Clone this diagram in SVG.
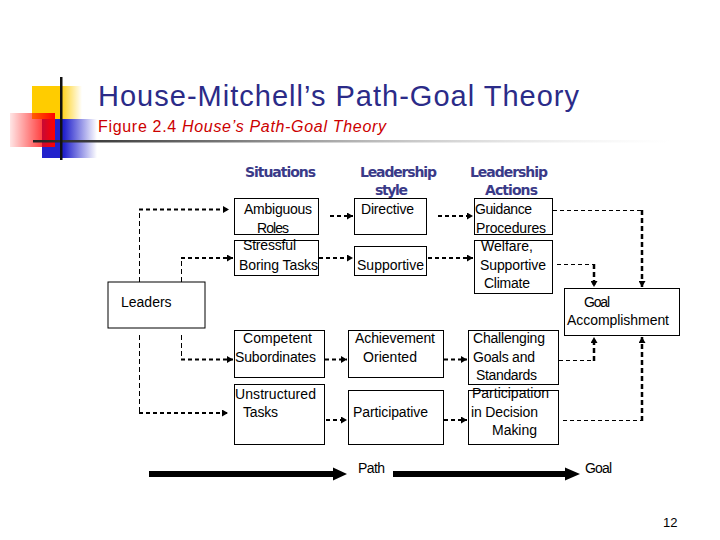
<svg xmlns="http://www.w3.org/2000/svg" width="720" height="540" viewBox="0 0 720 540">
<defs>
<linearGradient id="gy" x1="0" y1="0" x2="1" y2="0"><stop offset="0" stop-color="#FFCC00"/><stop offset="0.55" stop-color="#FFCC00"/><stop offset="1" stop-color="#FFCC00" stop-opacity="0"/></linearGradient>
<linearGradient id="gr" x1="0" y1="0" x2="1" y2="0"><stop offset="0" stop-color="#FF0000" stop-opacity="0.1"/><stop offset="1" stop-color="#FF0000"/></linearGradient>
<linearGradient id="gb" x1="0" y1="0" x2="1" y2="0"><stop offset="0" stop-color="#2222CC"/><stop offset="0.4" stop-color="#2222CC"/><stop offset="1" stop-color="#2222CC" stop-opacity="0"/></linearGradient>
<linearGradient id="gl" x1="0" y1="0" x2="1" y2="0"><stop offset="0" stop-color="#222222"/><stop offset="0.3" stop-color="#777777"/><stop offset="1" stop-color="#DDDDDD" stop-opacity="0"/></linearGradient>
<marker id="ah" markerUnits="userSpaceOnUse" markerWidth="7" markerHeight="7" refX="6" refY="3.5" orient="auto"><path d="M0,0 L6,3.5 L0,7 z" fill="#000"/></marker>
</defs>
<style>
.box{fill:#fff;stroke:#000;stroke-width:1}
.t{font-family:"Liberation Sans",Arial,sans-serif;font-size:14px;fill:#000}
.h{font-family:"DejaVu Sans","Liberation Sans",sans-serif;font-size:14px;fill:#3A3A88;font-weight:bold}
.d{fill:none;stroke:#000;stroke-width:2;stroke-dasharray:4 3}
.dt{fill:none;stroke:#000;stroke-width:1;stroke-dasharray:4 3}
.dv{fill:none;stroke:#000;stroke-width:1;stroke-dasharray:5 3}
.dk{fill:none;stroke:#000;stroke-width:2.5;stroke-dasharray:5 3}
</style>
<rect width="720" height="540" fill="#fff"/>
<g id="decoration">
<rect x="32" y="86" width="50" height="33" fill="url(#gy)"/>
<rect x="42" y="119" width="55" height="39" fill="url(#gb)"/>
<rect x="10" y="113" width="45" height="34" fill="url(#gr)"/>
<rect x="33" y="140" width="640" height="2.5" fill="url(#gl)"/>
<rect x="60" y="77" width="2.5" height="83" fill="#111"/>
</g>
<g id="title">
<text x="98" y="106" font-family="Liberation Sans,Arial,sans-serif" font-size="29" fill="#2B2B88" textLength="481">House-Mitchell’s Path-Goal Theory</text>
<text x="98" y="131.5" font-family="Liberation Sans,Arial,sans-serif" font-size="16" fill="#CC0000" textLength="288"><tspan>Figure 2.4 </tspan><tspan font-style="italic">House’s Path-Goal Theory</tspan></text>
</g>
<g id="headers">
<text class="h" x="280.5" y="177" text-anchor="middle" textLength="71">Situations</text>
<text class="h" x="398.5" y="177" text-anchor="middle" textLength="77">Leadership</text>
<text class="h" x="391.5" y="195" text-anchor="middle" textLength="33">style</text>
<text class="h" x="509" y="177" text-anchor="middle" textLength="78">Leadership</text>
<text class="h" x="511.5" y="195" text-anchor="middle" textLength="53">Actions</text>
</g>
<g id="connectors">
<path class="dv" d="M139.5,282 V209.5"/><path class="d" d="M139,209.5 H229" marker-end="url(#ah)"/>
<path class="dv" d="M181.5,282 V258"/><path class="d" d="M181,258 H233" marker-end="url(#ah)"/>
<path class="dv" d="M181.5,335 V359.5"/><path class="d" d="M181,359.5 H233" marker-end="url(#ah)"/>
<path class="dv" d="M139.5,335 V413"/><path class="d" d="M139,413 H228" marker-end="url(#ah)"/>
<path class="d" d="M330,216 H353" marker-end="url(#ah)"/>
<path class="d" d="M319,258 H353" marker-end="url(#ah)"/>
<path class="d" d="M438,216 H473" marker-end="url(#ah)"/>
<path class="d" d="M428,258 H473" marker-end="url(#ah)"/>
<path class="d" d="M325,359.5 H347" marker-end="url(#ah)"/>
<path class="d" d="M326,420 H347" marker-end="url(#ah)"/>
<path class="d" d="M444,359.5 H467" marker-end="url(#ah)"/>
<path class="d" d="M444,420 H467" marker-end="url(#ah)"/>
<path class="dt" d="M553,210.5 H642"/><path class="dk" d="M642,210 V287" marker-end="url(#ah)"/>
<path class="dt" d="M557,264.5 H594"/><path class="dk" d="M594,264 V287" marker-end="url(#ah)"/>
<path class="dt" d="M559,360.5 H594"/><path class="dk" d="M594,361 V337" marker-end="url(#ah)"/>
<path class="dt" d="M563,420.5 H642"/><path class="dk" d="M642,421 V337" marker-end="url(#ah)"/>
<path d="M149,474 H335" stroke="#000" stroke-width="6"/>
<polygon points="333,467.5 347,474 333,480.5" fill="#000"/>
<path d="M393,474 H567" stroke="#000" stroke-width="6"/>
<polygon points="565,467.5 580,474 565,480.5" fill="#000"/>
</g>
<g id="leaders"><rect class="box" x="108" y="282" width="97" height="46"/><text class="t" x="121" y="307">Leaders</text></g>
<g id="ambiguous"><rect class="box" x="234.5" y="198.5" width="84" height="36"/><text class="t" x="244" y="214" textLength="68">Ambiguous</text><text class="t" x="257" y="232.5" textLength="32">Roles</text></g>
<g id="stressful"><rect class="box" x="234.5" y="240.5" width="84" height="35"/><text class="t" x="243" y="250" textLength="53">Stressful</text><text class="t" x="239" y="269.5" textLength="79">Boring Tasks</text></g>
<g id="directive"><rect class="box" x="354.5" y="198.5" width="72" height="36"/><text class="t" x="361" y="214" textLength="53">Directive</text></g>
<g id="supportive"><rect class="box" x="354.5" y="246.5" width="72" height="29"/><text class="t" x="357" y="269.5" textLength="67">Supportive</text></g>
<g id="guidance"><rect class="box" x="474.5" y="198.5" width="78" height="36"/><text class="t" x="475" y="214" textLength="57">Guidance</text><text class="t" x="476" y="232.5" textLength="70">Procedures</text></g>
<g id="welfare"><rect class="box" x="474.5" y="240.5" width="78" height="53"/><text class="t" x="481" y="250.5" textLength="52">Welfare,</text><text class="t" x="480" y="269.5" textLength="66">Supportive</text><text class="t" x="484" y="287.5" textLength="46">Climate</text></g>
<g id="goal"><rect class="box" x="564.5" y="288.5" width="115" height="47"/><text class="t" x="584" y="307" textLength="26">Goal</text><text class="t" x="567" y="325" textLength="102">Accomplishment</text></g>
<g id="competent"><rect class="box" x="234.5" y="330.5" width="90" height="47"/><text class="t" x="243" y="342.5" textLength="69">Competent</text><text class="t" x="235" y="361.5" textLength="81">Subordinates</text></g>
<g id="unstructured"><rect class="box" x="234.5" y="384.5" width="90" height="60"/><text class="t" x="235" y="398.5" textLength="81">Unstructured</text><text class="t" x="243" y="416.5" textLength="35">Tasks</text></g>
<g id="achievement"><rect class="box" x="348.5" y="330.5" width="95" height="47"/><text class="t" x="355" y="342.5" textLength="80">Achievement</text><text class="t" x="363" y="361.5" textLength="54">Oriented</text></g>
<g id="participative"><rect class="box" x="348.5" y="390.5" width="95" height="54"/><text class="t" x="353" y="416.5" textLength="75">Participative</text></g>
<g id="challenging"><rect class="box" x="468.5" y="330.5" width="90" height="54"/><text class="t" x="473" y="342.5" textLength="72">Challenging</text><text class="t" x="473" y="361.5" textLength="62">Goals and</text><text class="t" x="476" y="379.5" textLength="61">Standards</text></g>
<g id="participation"><rect class="box" x="468.5" y="390.5" width="90" height="54"/><text class="t" x="472" y="398" textLength="77">Participation</text><text class="t" x="471" y="416.5" textLength="67">in Decision</text><text class="t" x="492" y="435" textLength="45">Making</text></g>
<g id="labels">
<text class="t" x="358" y="472.5" textLength="27">Path</text>
<text class="t" x="585" y="472.5" textLength="27">Goal</text>
<text x="663" y="527" font-family="Liberation Sans,Arial,sans-serif" font-size="13" fill="#000">12</text>
</g>
</svg>
